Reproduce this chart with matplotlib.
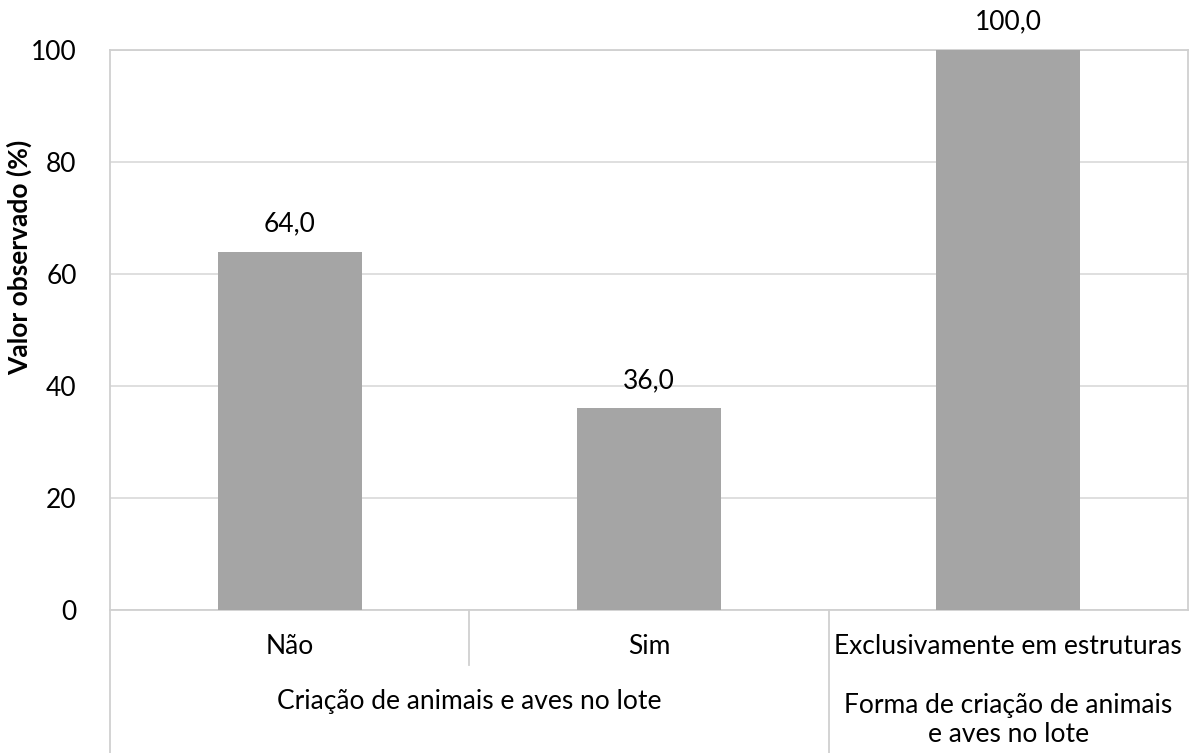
import matplotlib.pyplot as plt
import matplotlib.transforms as mtransforms

categorias = ["Não", "Sim", "Exclusivamente em estruturas"]
valores = [64.0, 36.0, 100.0]
grupos = ["Criação de animais e aves no lote", "Forma de criação de animais\ne aves no lote"]
grupo_centros = [0.5, 2.0]
yticks = [0, 20, 40, 60, 80, 100]

plt.rcParams['font.family'] = ['Lato', 'DejaVu Sans']
fs = 19

fig = plt.figure(figsize=(11.9, 7.53), dpi=100)
ax = fig.add_axes([110 / 1190, (753 - 610) / 753, 1078 / 1190, 560 / 753])

x = list(range(len(categorias)))
ax.bar(x, valores, width=0.4, color="#A5A5A5", zorder=3)
for xi, v in zip(x, valores):
    ax.annotate(f"{v:.1f}".replace(".", ","), (xi, v), xytext=(0, 20),
                textcoords="offset points", ha="center", va="center", fontsize=fs)

ax.set_xlim(-0.5, 2.5)
ax.set_ylim(0, 100)
ax.set_yticks(yticks)
ax.yaxis.grid(True, color="#D9D9D9", linewidth=1.2, zorder=0)
ax.set_xticks([])
ax.tick_params(axis="y", length=0, labelsize=fs, pad=24)
for s in ax.spines.values():
    s.set_color("#D0D0D0")
    s.set_linewidth(1.3)
ax.set_ylabel("Valor observado (%)", fontsize=fs, fontweight="bold")
ax.yaxis.set_label_coords(-78 / 1078, (610 - 257) / 560)

# eixo de categorias em dois níveis
tr = mtransforms.blended_transform_factory(ax.transData, ax.transAxes)
fundo = -(753 - 610) / 560
ax.plot([0.5, 0.5], [0, -55 / 560], transform=tr, color="#D0D0D0", lw=1.3, clip_on=False)
ax.plot([1.5, 1.5], [0, fundo], transform=tr, color="#D0D0D0", lw=1.3, clip_on=False)
ax.plot([-0.5, -0.5], [0, fundo], transform=tr, color="#D0D0D0", lw=1.3, clip_on=False)
for xi, c in zip(x, categorias):
    ax.text(xi, -37 / 560, c, transform=tr, ha="center", va="center", fontsize=fs)
ax.text(grupo_centros[0], -92 / 560, grupos[0], transform=tr, ha="center", va="center", fontsize=fs)
ax.text(grupo_centros[1], -110 / 560, grupos[1], transform=tr, ha="center", va="center",
        fontsize=fs, linespacing=1.15)

fig.savefig("out.png", dpi=100)
